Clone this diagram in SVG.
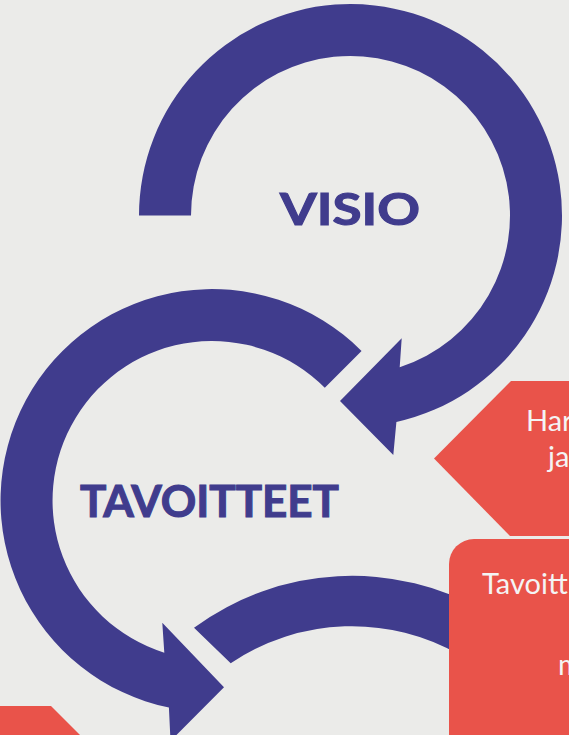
<svg xmlns="http://www.w3.org/2000/svg" width="569" height="735" viewBox="0 0 569 735">
<style>
.arrow{fill:#403c8d}
.red{fill:#e9534a}
.big{font-family:Lato,"Open Sans","Liberation Sans",sans-serif;font-weight:bold;font-size:44px;fill:#403c8d;stroke:#403c8d;stroke-width:1.1px}
.wt{font-family:Lato,"Open Sans","Liberation Sans",sans-serif;font-size:29px;fill:#f4f4f4}
</style>
<rect width="569" height="735" fill="#ebebe9"/>
<g id="connectors">
<path class="arrow" d="M139,215.5 A211.5,211.5 0 1 1 396.4,422 L393.3,455 L340,401 L401.7,338.3 L399.7,367.2 A159.5,159.5 0 1 0 191,215.5 Z"/>
<path class="arrow" d="M361.55,350.95 A211.5,211.5 0 1 0 168.9,707.6 L170.5,741 L224,687.3 L162.3,622.7 L164.3,652.7 A159.5,159.5 0 1 1 324.8,387.7 Z"/>
<path class="arrow" d="M194,627.7 A267.5,267.5 0 0 1 486.25,611.8 L461,655.6 A217,217 0 0 0 230.7,663.3 Z"/>
</g>
<g id="visio">
<text class="big" x="280" y="225" textLength="140" lengthAdjust="spacingAndGlyphs">VISIO</text>
</g>
<g id="tavoitteet">
<text class="big" x="80" y="516.7" textLength="259" lengthAdjust="spacingAndGlyphs">TAVOITTEET</text>
</g>
<g id="box-har">
<polygon class="red" points="511,381 600,381 600,536 510,536 434,458.5"/>
<text class="wt" x="526" y="431">Har</text>
<text class="wt" x="548" y="466.7">ja</text>
</g>
<g id="box-tavoitt">
<rect class="red" x="449" y="539" width="160" height="230" rx="25" ry="25"/>
<text class="wt" x="482" y="594.3">Tavoitt</text>
<text class="wt" x="558" y="675">m</text>
</g>
<g id="box-bottom">
<polygon class="red" points="-10,706 51,706 105,760 -10,760"/>
</g>
</svg>
